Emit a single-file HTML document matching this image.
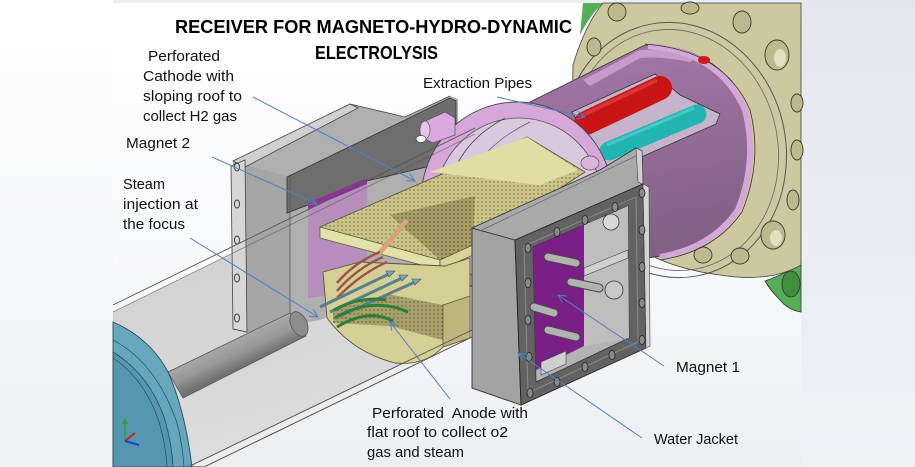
<!DOCTYPE html>
<html><head><meta charset="utf-8">
<style>
html,body{margin:0;padding:0;width:915px;height:467px;overflow:hidden;background:#fff}
svg{display:block}
text{font-family:"Liberation Sans",Arial,sans-serif;fill:#111}
</style></head><body>
<svg width="915" height="467" viewBox="0 0 915 467" xmlns="http://www.w3.org/2000/svg">
<defs>
 <linearGradient id="bg" x1="0" y1="0" x2="0" y2="1"><stop offset="0" stop-color="#ffffff"/><stop offset="0.55" stop-color="#f8f9fb"/><stop offset="1" stop-color="#eceef2"/></linearGradient>
 <linearGradient id="lbg" x1="0" y1="0" x2="0" y2="1"><stop offset="0" stop-color="#ffffff"/><stop offset="1" stop-color="#eef0f3"/></linearGradient>
 <linearGradient id="rbg" x1="0" y1="0" x2="0" y2="1"><stop offset="0" stop-color="#e5e7ee"/><stop offset="1" stop-color="#eff1f5"/></linearGradient>
 <linearGradient id="floor" x1="0" y1="0" x2="0.3" y2="1"><stop offset="0" stop-color="#cacaca"/><stop offset="1" stop-color="#dddddd"/></linearGradient>
 <linearGradient id="rodg" gradientUnits="userSpaceOnUse" x1="228" y1="342" x2="240" y2="368"><stop offset="0" stop-color="#a9a9a9"/><stop offset="0.5" stop-color="#989898"/><stop offset="1" stop-color="#6f6f6f"/></linearGradient>
 <linearGradient id="purp" x1="0" y1="0" x2="0.2" y2="1"><stop offset="0" stop-color="#a77aa9"/><stop offset="1" stop-color="#7d5e82"/></linearGradient>
 <pattern id="dots" width="4" height="4" patternUnits="userSpaceOnUse"><circle cx="2" cy="2" r="0.9" fill="#4f4a28"/></pattern>
 <marker id="ah" markerWidth="10" markerHeight="10" refX="9" refY="5" orient="auto" markerUnits="userSpaceOnUse"><path d="M1,1 L9,5 L1,9" fill="none" stroke="#4f81bd" stroke-width="1"/></marker>
</defs>

<!-- backgrounds -->
<rect x="0" y="0" width="915" height="467" fill="url(#bg)"/>
<rect x="0" y="0" width="113" height="467" fill="url(#lbg)"/>
<rect x="801" y="0" width="114" height="467" fill="url(#rbg)"/>
<rect x="113" y="0" width="688" height="3" fill="#eceef2"/>

<!-- trough floor -->
<polygon points="113,312 475,134 475,331 190,466 113,466" fill="url(#floor)"/>
<polygon points="190,466 472,330 472,337 204,467" fill="#ededed" stroke="#666" stroke-width="0.8"/>

<!-- green flange behind -->
<path d="M583,3 L603,3 Q590,15 580,35 Z" fill="#55ad55"/>
<path d="M765,281 Q790,272 801,262 L801,312 Q788,310 780,300 Q770,290 765,281 Z" fill="#55ad55" stroke="#333" stroke-width="0.8"/>
<ellipse cx="791" cy="284" rx="9" ry="13" fill="#3f8f3f" stroke="#333" stroke-width="0.8"/>

<!-- beige flange -->
<path d="M603,3 L801,3 L801,265 Q770,283 720,275 Q680,270 650,255 L600,220 L572,120 L573,65 Q585,25 603,3 Z" fill="#cdc8a0" stroke="#444" stroke-width="0.8"/>
<ellipse cx="674" cy="150" rx="112" ry="128" transform="rotate(-10 674 150)" fill="none" stroke="#555" stroke-width="1"/>
<ellipse cx="674" cy="150" rx="104" ry="121" transform="rotate(-10 674 150)" fill="none" stroke="#666" stroke-width="0.8"/>
<g fill="#bdb88e" stroke="#3a3a2a" stroke-width="0.9">
 <ellipse cx="617" cy="12" rx="9" ry="9"/>
 <ellipse cx="690" cy="8" rx="9" ry="6"/>
 <ellipse cx="742" cy="22" rx="9" ry="11"/>
 <ellipse cx="594" cy="47" rx="7" ry="9"/>
 <ellipse cx="777" cy="55" rx="12" ry="15"/>
 <ellipse cx="797" cy="103" rx="6" ry="9"/>
 <ellipse cx="797" cy="150" rx="6" ry="10"/>
 <ellipse cx="793" cy="200" rx="6" ry="10"/>
 <ellipse cx="773" cy="235" rx="12" ry="14"/>
 <ellipse cx="740" cy="256" rx="9" ry="8"/>
 <ellipse cx="703" cy="255" rx="9" ry="8"/>
</g>
<g fill="#e2dec0" stroke="none">
 <ellipse cx="780" cy="58" rx="6" ry="9"/>
 <ellipse cx="776" cy="238" rx="6" ry="8"/>
</g>

<!-- purple cylinder body -->
<path d="M530,102 L645,45 Q700,45 730,80 Q755,115 752,160 Q748,210 715,237 Q690,252 648,258 L560,300 L470,270 L430,200 Z" fill="url(#purp)" stroke="#333" stroke-width="0.8"/>
<path d="M583,80 L640,50 Q680,48 700,56 L690,62 Q660,56 640,58 L590,86 Z" fill="#d2a6d4" opacity="0.8"/>
<path d="M648,46 Q720,52 745,110 Q758,160 738,210 Q712,248 660,257" fill="none" stroke="#d4a8d6" stroke-width="6"/>
<path d="M645,44 Q724,50 750,110 Q763,160 742,212 Q714,252 660,260" fill="none" stroke="#333" stroke-width="0.8"/>
<ellipse cx="704" cy="60" rx="6" ry="4" fill="#d01818"/>
<!-- window with pipes -->
<polygon points="572,112 655,74 680,95 720,114 716,124 612,170 600,158" fill="#c6b4cb" stroke="#333" stroke-width="0.8"/>
<line x1="586" y1="123" x2="660" y2="88" stroke="#c81414" stroke-width="24" stroke-linecap="round"/>
<line x1="583" y1="115" x2="655" y2="81" stroke="#e24a4a" stroke-width="4" opacity="0.6" stroke-linecap="round"/>
<line x1="609" y1="151" x2="697" y2="114" stroke="#22b3b3" stroke-width="19" stroke-linecap="round"/>
<line x1="607" y1="145" x2="694" y2="108" stroke="#5fd6d6" stroke-width="3" opacity="0.6"/>

<!-- magnet 2 housing -->
<polygon points="233,161 350,104 405,117 450,96 458,99 458,240 367,300 320,320 246,333 233,329" fill="#afafaf"/>
<polygon points="246,165 290,177 290,326 246,333" fill="#a6a6a6"/>
<polygon points="287,177 405,120 450,98 456,101 456,160 367,181 308,205 287,213" fill="#6e6e6e" stroke="#333" stroke-width="0.8"/>
<polygon points="308,205 367,180 367,290 308,298" fill="#b68bbd" opacity="0.9"/>
<polygon points="308,203 367,178 367,184 308,209" fill="#8f3296"/>
<polygon points="233,161 350,104 358,108 245,167" fill="#d0d0d0" stroke="#444" stroke-width="0.8"/>
<polyline points="350,104 405,117 450,96" fill="none" stroke="#444" stroke-width="0.8"/>
<line x1="290" y1="177" x2="290" y2="326" stroke="#555" stroke-width="0.8"/>
<polygon points="231,166 245,160 247,332 233,329" fill="#d6d6d6" stroke="#444" stroke-width="0.8"/>
<g fill="none" stroke="#333" stroke-width="0.9">
 <ellipse cx="237" cy="167" rx="2.5" ry="4"/>
 <ellipse cx="237" cy="204" rx="2.5" ry="4"/>
 <ellipse cx="237" cy="240" rx="2.5" ry="4"/>
 <ellipse cx="237" cy="278" rx="2.5" ry="4"/>
 <ellipse cx="237" cy="318" rx="2.5" ry="4"/>
</g>

<!-- front ring -->
<ellipse cx="517" cy="200" rx="96" ry="98" fill="#d6a7d8" stroke="#444" stroke-width="0.9"/>
<ellipse cx="519" cy="204" rx="84" ry="86" fill="#dac8de" stroke="#555" stroke-width="0.8"/>
<path d="M447,215 Q445,150 505,118" fill="none" stroke="#444" stroke-width="0.8"/>
<path d="M458,240 Q452,160 530,122" fill="none" stroke="#555" stroke-width="0.7"/>
<ellipse cx="527" cy="153" rx="11" ry="13" fill="#e7ae8e" stroke="#555" stroke-width="0.7"/>
<!-- pink pin + slot -->
<polygon points="423,122 445,112 455,118 455,135 433,143 423,138" fill="#d9a9dd" stroke="#555" stroke-width="0.7"/>
<ellipse cx="425" cy="130" rx="5" ry="9" fill="#e8c4ea" stroke="#555" stroke-width="0.7"/>
<ellipse cx="421" cy="139" rx="5" ry="3.5" fill="#ffffff" stroke="#444" stroke-width="0.7"/>

<!-- cathode -->
<polygon points="320,227 527,137 585,172 473,245 440,262" fill="#cbc588" stroke="#5a5a3a" stroke-width="0.9"/>
<polygon points="320,227 527,137 585,172 473,245 440,262" fill="url(#dots)" opacity="0.55"/>
<polygon points="430,172 527,137 578,170 540,185" fill="#e2dda4"/>
<polygon points="390,215 475,196 473,245 440,260" fill="#9c9560" opacity="0.8"/>
<polygon points="390,215 475,196 473,245 440,260" fill="url(#dots)" opacity="0.7"/>
<polygon points="320,227 440,260 440,270 320,238" fill="#e4e0aa" stroke="#5a5a3a" stroke-width="0.8"/>
<polygon points="440,260 473,245 473,255 440,270" fill="#d8d49c" stroke="#5a5a3a" stroke-width="0.8"/>
<line x1="378" y1="255" x2="407" y2="220" stroke="#d6a57a" stroke-width="5"/>

<!-- anode -->
<path d="M323,272 L360,262 L445,266 L470,258 L470,338 L443,347 Q425,366 395,363 Q352,352 327,318 Z" fill="#d4d095" stroke="#55553a" stroke-width="0.9"/>
<polygon points="333,310 388,294 443,305 443,340 390,326 333,323" fill="#a9a16b"/>
<polygon points="333,310 388,294 443,305 443,340 390,326 333,323" fill="url(#dots)" opacity="0.6"/>
<polygon points="443,305 470,296 470,338 443,347" fill="#bdb77d" stroke="#55553a" stroke-width="0.7"/>
<g fill="none" stroke="#9e5548" stroke-width="2.5">
 <path d="M337,283 Q355,262 380,252"/>
 <path d="M337,291 Q357,268 383,257"/>
 <path d="M337,298 Q360,274 387,262"/>
</g>
<g stroke="#5c7f8e" stroke-width="3">
 <line x1="320" y1="307" x2="389" y2="274"/>
 <line x1="330" y1="312" x2="402" y2="278"/>
 <line x1="340" y1="316" x2="415" y2="282"/>
</g>
<g fill="#7ea6b4" stroke="#34525e" stroke-width="0.6">
 <polygon points="395,271 389,277 386,271"/>
 <polygon points="408,275 402,281 399,275"/>
 <polygon points="421,279 415,285 412,279"/>
</g>
<g fill="none" stroke="#2e7d3a" stroke-width="3">
 <path d="M335,318 Q372,296 408,312"/>
 <path d="M337,327 Q368,308 393,321"/>
 <path d="M334,310 Q360,296 386,300"/>
</g>

<!-- rod -->
<polygon points="168,372 290,313 306,336 183,398" fill="url(#rodg)" stroke="#555" stroke-width="0.7"/>
<ellipse cx="299" cy="324" rx="8" ry="13" transform="rotate(-25 299 324)" fill="#8c8c8c" stroke="#555" stroke-width="0.8"/>

<!-- blue flange -->
<path d="M113,322 Q150,338 168,372 Q185,410 192,467 L113,467 Z" fill="#66a7bd" stroke="#2c4a58" stroke-width="0.9"/>
<path d="M113,352 Q150,375 165,420 Q172,445 173,467 L113,467 Z" fill="#5597ae" stroke="#2c4a58" stroke-width="0.8"/>
<path d="M113,358 Q146,380 160,425 Q166,447 167,467" fill="none" stroke="#2c4a58" stroke-width="0.7"/>
<path d="M113,340 Q155,362 176,420 Q182,440 184,467" fill="none" stroke="#2c4a58" stroke-width="0.7"/>
<!-- axis triad -->
<line x1="125" y1="441" x2="125" y2="421" stroke="#2ea02e" stroke-width="1.5"/>
<polygon points="125,418 122,424 128,424" fill="#2ea02e"/>
<line x1="125" y1="441" x2="135" y2="433" stroke="#d02020" stroke-width="2"/>
<line x1="125" y1="441" x2="139" y2="445" stroke="#2040d0" stroke-width="2"/>

<!-- water jacket -->
<polygon points="472,228 515,240 521,405 472,388" fill="#a3a3a3" stroke="#333" stroke-width="0.9"/>
<polygon points="472,228 600,170 636,148 642,151 643,184 515,240" fill="#a9a9a9" stroke="#333" stroke-width="0.9"/>
<line x1="480" y1="231" x2="636" y2="156" stroke="#666" stroke-width="0.7"/>
<polygon points="636,148 642,151 643,184 638,182" fill="#cfcfcf" stroke="#444" stroke-width="0.6"/>
<ellipse cx="590" cy="163" rx="9" ry="7" fill="#dcb4de" stroke="#555" stroke-width="0.7"/>
<polygon points="515,240 643,184 646,348 521,405" fill="#626262" stroke="#222" stroke-width="0.9"/>
<polygon points="643,184 649,187 650,346 646,348" fill="#d4d4d4" stroke="#444" stroke-width="0.6"/>
<polygon points="524,246 636,197 638,342 528,393" fill="none" stroke="#8a8a8a" stroke-width="1"/>
<polygon points="533,247 628,206 629,338 536,382" fill="#b4b4b4" stroke="#333" stroke-width="0.8"/>
<polygon points="584,225 628,206 629,338 584,346" fill="#bebebe"/>
<polygon points="533,247 584,225 584,346 536,370" fill="#7a1f86"/>
<polygon points="584,268 628,250 628,258 584,276" fill="#d0d0d0" stroke="#444" stroke-width="0.6"/>
<polygon points="541,362 566,351 566,364 541,375" fill="#cfcfcf" stroke="#444" stroke-width="0.6"/>
<circle cx="611" cy="222" r="8" fill="#d8d8d8" stroke="#333" stroke-width="0.8"/>
<circle cx="614" cy="290" r="9" fill="#c8c8c8" stroke="#333" stroke-width="0.8"/>
<g stroke-linecap="round">
 <g stroke="#444" stroke-width="9">
  <line x1="548" y1="257" x2="576" y2="263"/>
  <line x1="571" y1="282" x2="599" y2="288"/>
  <line x1="534" y1="307" x2="554" y2="313"/>
  <line x1="548" y1="330" x2="576" y2="337"/>
 </g>
 <g stroke="#b2b2b2" stroke-width="7">
  <line x1="548" y1="257" x2="576" y2="263"/>
  <line x1="571" y1="282" x2="599" y2="288"/>
  <line x1="534" y1="307" x2="554" y2="313"/>
  <line x1="548" y1="330" x2="576" y2="337"/>
 </g>
</g>
<g fill="#8a8a8a" stroke="#222" stroke-width="0.8">
 <ellipse cx="528" cy="248" rx="3" ry="4.5"/>
 <ellipse cx="528" cy="283" rx="3" ry="4.5"/>
 <ellipse cx="528" cy="320" rx="3" ry="4.5"/>
 <ellipse cx="529" cy="357" rx="3" ry="4.5"/>
 <ellipse cx="530" cy="393" rx="3" ry="4.5"/>
 <ellipse cx="642" cy="193" rx="3" ry="4.5"/>
 <ellipse cx="642" cy="230" rx="3" ry="4.5"/>
 <ellipse cx="642" cy="267" rx="3" ry="4.5"/>
 <ellipse cx="642" cy="303" rx="3" ry="4.5"/>
 <ellipse cx="642" cy="340" rx="3" ry="4.5"/>
 <ellipse cx="557" cy="232" rx="3" ry="4.5"/>
 <ellipse cx="585" cy="220" rx="3" ry="4.5"/>
 <ellipse cx="615" cy="207" rx="3" ry="4.5"/>
 <ellipse cx="557" cy="382" rx="3" ry="4.5"/>
 <ellipse cx="585" cy="367" rx="3" ry="4.5"/>
 <ellipse cx="612" cy="355" rx="3" ry="4.5"/>
</g>

<!-- trough lines -->
<g stroke="#555" stroke-width="0.9" fill="none">
 <line x1="113" y1="305" x2="475" y2="128"/>
 <line x1="113" y1="312" x2="475" y2="134" opacity="0.6"/>
 <line x1="190" y1="466" x2="472" y2="330"/>
 <line x1="204" y1="467" x2="472" y2="337"/>
</g>

<!-- arrows -->
<g stroke="#4f81bd" stroke-width="1" fill="none" marker-end="url(#ah)">
 <line x1="253" y1="97" x2="415" y2="181"/>
 <line x1="212" y1="157" x2="317" y2="204"/>
 <line x1="190" y1="238" x2="318" y2="317"/>
 <line x1="497" y1="97" x2="585" y2="117"/>
 <line x1="450" y1="399" x2="390" y2="322"/>
 <line x1="664" y1="366" x2="558" y2="295"/>
 <line x1="642" y1="438" x2="518" y2="353"/>
</g>

<!-- title -->
<text x="175" y="33" font-size="18.5" font-weight="bold" textLength="397" lengthAdjust="spacingAndGlyphs" style="fill:#000">RECEIVER FOR MAGNETO-HYDRO-DYNAMIC</text>
<text x="315" y="59" font-size="18.5" font-weight="bold" textLength="123" lengthAdjust="spacingAndGlyphs" style="fill:#000">ELECTROLYSIS</text>

<!-- labels -->
<g font-size="15">
 <text x="148" y="61" textLength="72" lengthAdjust="spacingAndGlyphs">Perforated</text>
 <text x="143" y="81" textLength="91" lengthAdjust="spacingAndGlyphs">Cathode with</text>
 <text x="143" y="101" textLength="99" lengthAdjust="spacingAndGlyphs">sloping roof to</text>
 <text x="143" y="121" textLength="94" lengthAdjust="spacingAndGlyphs">collect H2 gas</text>
 <text x="126" y="148" textLength="64" lengthAdjust="spacingAndGlyphs">Magnet 2</text>
 <text x="123" y="189" textLength="42" lengthAdjust="spacingAndGlyphs">Steam</text>
 <text x="123" y="209" textLength="75" lengthAdjust="spacingAndGlyphs">injection at</text>
 <text x="123" y="229" textLength="62" lengthAdjust="spacingAndGlyphs">the focus</text>
 <text x="423" y="88" textLength="109" lengthAdjust="spacingAndGlyphs">Extraction Pipes</text>
 <text x="676" y="372" textLength="64" lengthAdjust="spacingAndGlyphs">Magnet 1</text>
 <text x="654" y="444" textLength="84" lengthAdjust="spacingAndGlyphs">Water Jacket</text>
 <text x="372" y="418" textLength="156" lengthAdjust="spacingAndGlyphs">Perforated&#160; Anode with</text>
 <text x="367" y="437" textLength="141" lengthAdjust="spacingAndGlyphs">flat roof to collect o2</text>
 <text x="367" y="457" textLength="97" lengthAdjust="spacingAndGlyphs">gas and steam</text>
</g>
</svg>
</body></html>
